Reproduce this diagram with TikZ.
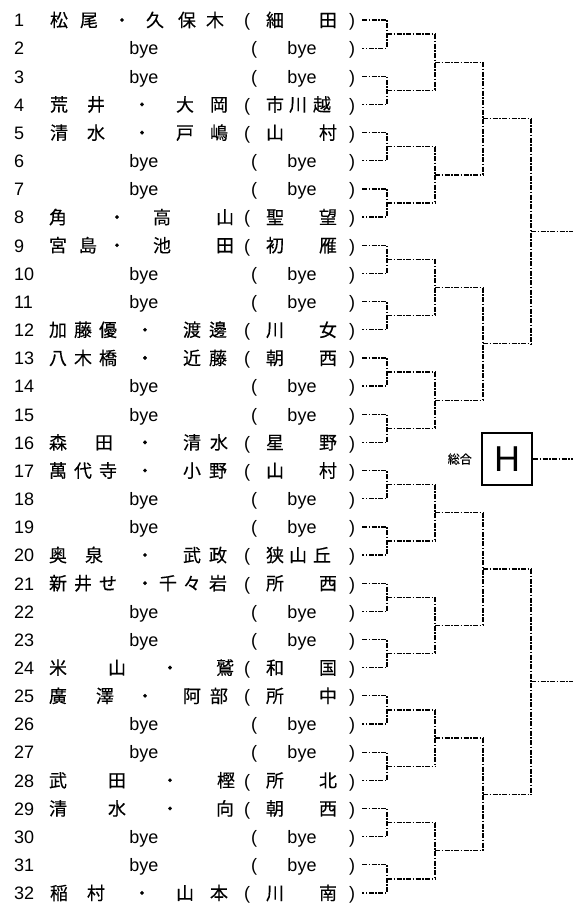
\documentclass[tikz,border=0pt]{standalone}
\usepackage{fontspec}
\setmainfont{Liberation Sans}
\newfontfamily\jpfont[FakeBold=0.3]{Noto Sans CJK JP}
\usetikzlibrary{calc,positioning}

\tikzset{
	txt/.style={inner sep=0pt, anchor=base, yshift=-6.8pt, font=\fontsize{18}{21}\selectfont},
	jp/.style={txt, font=\jpfont\fontsize{18}{21}\selectfont},
	num/.style={txt, anchor=base west},
	bracket/.style={line width=1.3pt, dash pattern=on 5pt off 1.5pt on 1.5pt off 1.5pt},
	hbox/.style={draw, line width=2pt, minimum width=50pt, minimum height=52pt, inner sep=0pt, font=\fontsize{36}{38}\selectfont},
	sogo/.style={inner sep=0pt, font=\jpfont\fontsize{12}{14}\selectfont}
}

%Row with a bye
\newcommand{\byerow}[1]{%
	\pgfmathsetmacro\ry{20+28.16*(#1-1)}
	\node[num] (n#1) at (14,\ry) {#1};
	\node[txt] (p#1) at (144,\ry) {bye};
	\node[txt] (ol#1) at (254,\ry) {(};
	\node[txt] (s#1) at (302,\ry) {bye};
	\node[txt] (cl#1) at (352,\ry) {)};
	\coordinate (e#1) at (362,\ry);
}
%Row with a pair and their school
\newcommand{\namerow}[3]{%
	\pgfmathsetmacro\ry{20+28.16*(#1-1)}
	\node[num] (n#1) at (14,\ry) {#1};
	\foreach \px/\ch [count=\k] in {#2} {\node[jp] (p#1-\k) at (\px,\ry) {\ch};}
	\node[txt] (ol#1) at (247,\ry) {(};
	\foreach \px/\ch [count=\k] in {#3} {\node[jp] (s#1-\k) at (\px,\ry) {\ch};}
	\node[txt] (cl#1) at (352,\ry) {)};
	\coordinate (e#1) at (362,\ry);
}
%One match: two entries, bracket column, next column, winner
\newcommand{\matchup}[5]{%
	\draw[bracket] (#1) -| (#3 |- #2) -- (#2);
	\coordinate (#5) at ($(#1 -| #4)!.5!(#2 -| #4)$);
	\draw[bracket] ($(#1 -| #3)!.5!(#2 -| #3)$) -- (#5);
}

\begin{document}
\begin{tikzpicture}[x=1pt,y=-1pt]
	\useasboundingbox (0,0) rectangle (573,904);
	%Top half
		\namerow{1}{59/松,89/尾,122/・,155/久,187/保,215/木}{275/細,328/田}
		\byerow{2}
		\byerow{3}
		\namerow{4}{59/荒,96/井,142/・,185/大,219/岡}{275/市,298/川,322/越}
		\namerow{5}{59/清,96/水,142/・,185/戸,219/嶋}{275/山,328/村}
		\byerow{6}
		\byerow{7}
		\namerow{8}{58/角,117/・,162/高,225/山}{275/聖,328/望}
		\namerow{9}{58/宮,88/島,117/・,162/池,225/田}{275/初,328/雁}
		\byerow{10}
		\byerow{11}
		\namerow{12}{58/加,83/藤,108/優,145/・,192/渡,218/邊}{275/川,328/女}
		\namerow{13}{58/八,83/木,108/橋,145/・,192/近,218/藤}{275/朝,328/西}
		\byerow{14}
		\byerow{15}
		\namerow{16}{58/森,104/田,145/・,192/清,219/水}{275/星,328/野}
	%Bottom half
		\namerow{17}{58/萬,83/代,108/寺,145/・,192/小,218/野}{275/山,328/村}
		\byerow{18}
		\byerow{19}
		\namerow{20}{58/奥,94/泉,145/・,192/武,218/政}{275/狭,298/山,322/丘}
		\namerow{21}{58/新,83/井,108/せ,145/・,168/千,192/々,218/岩}{275/所,328/西}
		\byerow{22}
		\byerow{23}
		\namerow{24}{58/米,117/山,170/・,225/鷲}{275/和,328/国}
		\namerow{25}{58/廣,105/澤,145/・,192/阿,219/部}{275/所,328/中}
		\byerow{26}
		\byerow{27}
		\namerow{28}{58/武,117/田,170/・,226/樫}{275/所,328/北}
		\namerow{29}{58/清,117/水,170/・,225/向}{275/朝,328/西}
		\byerow{30}
		\byerow{31}
		\namerow{32}{59/稲,96/村,142/・,185/山,219/本}{275/川,328/南}
	%Bracket columns
		\coordinate (c1) at (387,0);
		\coordinate (c2) at (435,0);
		\coordinate (c3) at (483,0);
		\coordinate (c4) at (531,0);
		\coordinate (c5) at (573,0);
	%Rounds
		\foreach \k [evaluate=\k as \ta using int(2*\k-1), evaluate=\k as \tb using int(2*\k)] in {1,...,16}
			{\matchup{e\ta}{e\tb}{c1}{c2}{a\k}}
		\foreach \k [evaluate=\k as \ta using int(2*\k-1), evaluate=\k as \tb using int(2*\k)] in {1,...,8}
			{\matchup{a\ta}{a\tb}{c2}{c3}{b\k}}
		\foreach \k [evaluate=\k as \ta using int(2*\k-1), evaluate=\k as \tb using int(2*\k)] in {1,...,4}
			{\matchup{b\ta}{b\tb}{c3}{c4}{d\k}}
		\matchup{d1}{d2}{c4}{c5}{f1}
		\matchup{d3}{d4}{c4}{c5}{f2}
	%Overall box
		\node[hbox] (final) at (507,459) {H};
		\node[sogo, left=9pt of final] (sogo) {総合};
		\draw[bracket] (final.east) -- (final.east -| c5);
\end{tikzpicture}
\end{document}
